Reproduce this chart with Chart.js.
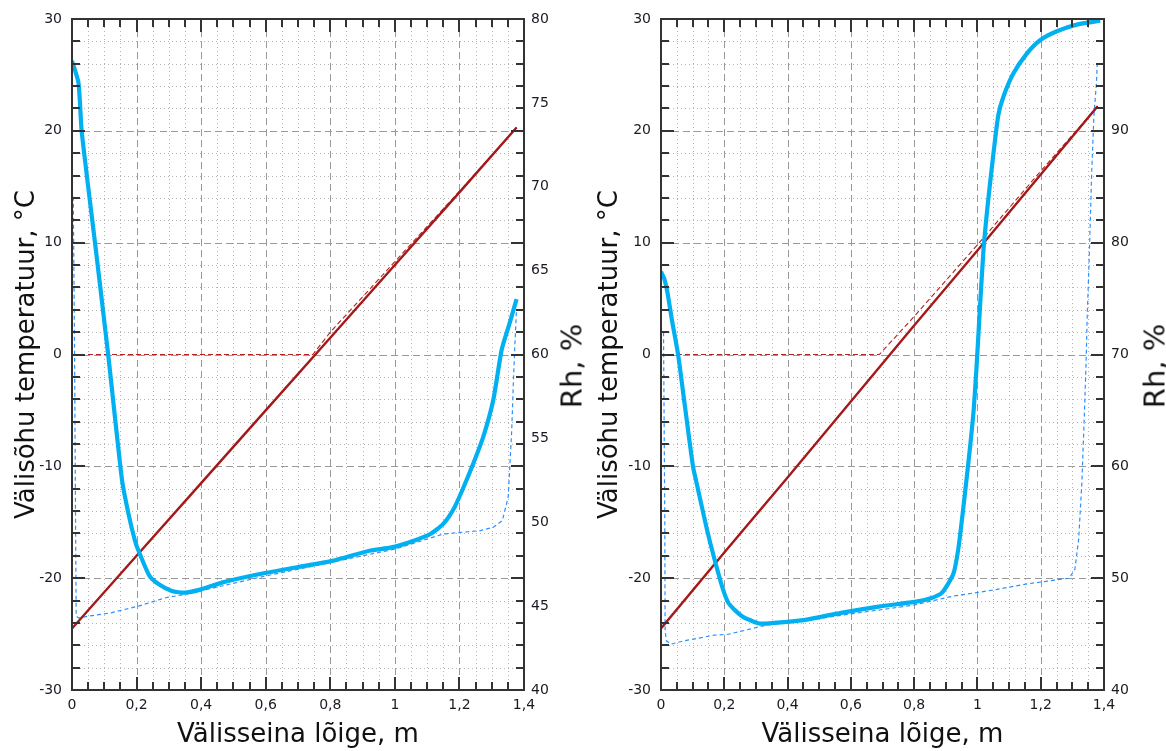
<!DOCTYPE html>
<html>
<head>
<meta charset="utf-8">
<script src="https://cdn.jsdelivr.net/npm/chart.js@4.4.1/dist/chart.umd.min.js"></script>
<style>
  html, body { margin: 0; padding: 0; background: #fff; }
  #wrap { position: relative; width: 1166px; height: 751px; overflow: hidden; background: #fff; }
  .panel { position: absolute; top: 0; width: 583px; height: 751px; }
  .rh-title {
    position: absolute; left: 572px; top: 366px;
    font: 29px "DejaVu Sans", Verdana, sans-serif; color: #111; line-height: 1;
    white-space: nowrap; transform: translate(-50%, -50%) rotate(-90deg);
  }
</style>
</head>
<body>
<div id="wrap">
  <div class="panel" style="left:0">
    <canvas id="chartA" width="583" height="751"></canvas>
    <div class="rh-title">Rh, %</div>
  </div>
  <div class="panel" style="left:583px">
    <canvas id="chartB" width="583" height="751"></canvas>
    <div class="rh-title">Rh, %</div>
  </div>
</div>
<script>
// Tick labels
const xTicks = [0, 0.2, 0.4, 0.6, 0.8, 1.0, 1.2, 1.4];
const tempTicks = [-30, -20, -10, 0, 10, 20, 30];
const rhTicksA = [40, 45, 50, 55, 60, 65, 70, 75, 80];
const rhTicksB = [40, 50, 60, 70, 80, 90];

// Left panel: temperature through the wall (°C)
const aTempX = [0, 0.2, 0.4, 0.6, 0.8, 1.0, 1.2, 1.377];
const aTempY = [-24.5, -18.0, -11.5, -5.0, 1.5, 8.0, 14.5, 20.3];
// Left panel: dashed temperature line (°C)
const aCondX = [0, 0.746, 0.8, 1.0, 1.2, 1.377];
const aCondY = [0, 0, 2.0, 8.3, 14.6, 20.3];
// Left panel: relative humidity (%)
const aRhX = [0, 0.02, 0.03, 0.071, 0.112, 0.155, 0.175, 0.195, 0.206, 0.24, 0.269, 0.309, 0.349, 0.40, 0.464, 0.578, 0.692, 0.807, 0.921, 0.99, 1.059, 1.11, 1.15, 1.185, 1.213, 1.243, 1.274, 1.305, 1.331, 1.356, 1.377];
const aRhY = [77.5, 76.2, 73.3, 66.7, 60.0, 52.5, 50.5, 48.9, 48.3, 46.8, 46.3, 45.9, 45.8, 46.0, 46.4, 46.9, 47.3, 47.7, 48.3, 48.5, 48.9, 49.3, 49.9, 50.9, 52.1, 53.5, 55.1, 57.3, 60.3, 61.9, 63.3];
// Left panel: dashed relative humidity (%)
const aCritX = [0.004, 0.008, 0.011, 0.013, 0.02, 0.05, 0.12, 0.206, 0.29, 0.35, 0.464, 0.6, 0.8, 1.0, 1.15, 1.265, 1.305, 1.333, 1.351, 1.362, 1.367, 1.372, 1.377];
const aCritY = [69.4, 60.0, 50.0, 44.4, 44.3, 44.4, 44.6, 45.0, 45.5, 45.7, 46.2, 46.8, 47.6, 48.4, 49.3, 49.5, 49.7, 50.1, 51.5, 55.5, 58.3, 60.7, 62.7];

// Right panel: temperature through the wall (°C)
const bTempX = [0, 0.2, 0.4, 0.6, 0.8, 1.0, 1.2, 1.38];
const bTempY = [-24.5, -17.7, -11.0, -4.2, 2.6, 9.3, 16.1, 22.2];
// Right panel: dashed temperature line (°C)
const bCondX = [0, 0.69, 0.8, 1.0, 1.2, 1.38];
const bCondY = [0, 0, 3.4, 9.8, 16.4, 22.2];
// Right panel: relative humidity (%)
const bRhX = [0, 0.01, 0.02, 0.035, 0.054, 0.075, 0.101, 0.111, 0.144, 0.168, 0.197, 0.215, 0.256, 0.31, 0.357, 0.451, 0.569, 0.688, 0.806, 0.853, 0.888, 0.924, 0.94, 0.953, 0.965, 0.977, 0.988, 0.997, 1.006, 1.019, 1.034, 1.052, 1.066, 1.082, 1.113, 1.156, 1.198, 1.251, 1.314, 1.388];
const bRhY = [77.4, 76.8, 75.6, 73.0, 70.0, 65.5, 60.0, 58.7, 54.5, 51.8, 48.9, 47.7, 46.6, 45.95, 46.0, 46.25, 46.9, 47.45, 47.9, 48.2, 48.7, 50.4, 52.7, 55.7, 58.7, 61.8, 65.0, 68.8, 73.2, 79.3, 83.8, 88.3, 91.4, 93.05, 95.1, 96.9, 98.1, 98.9, 99.5, 99.85];
// Right panel: dashed relative humidity (%)
const bCritX = [0.008, 0.012, 0.013, 0.017, 0.032, 0.073, 0.168, 0.215, 0.333, 0.45, 0.6, 0.8, 0.924, 1.042, 1.16, 1.29, 1.308, 1.32, 1.33, 1.337, 1.343, 1.347, 1.354, 1.361, 1.368, 1.376, 1.379];
const bCritY = [72.0, 55.0, 45.3, 44.4, 44.1, 44.4, 44.9, 45.0, 45.8, 46.2, 46.8, 47.6, 48.4, 48.9, 49.5, 50.0, 50.8, 53.5, 58.5, 63.9, 68.9, 73.4, 79.3, 86.2, 91.3, 94.25, 96.2];

const FONT = '"DejaVu Sans", Verdana, sans-serif';
const toPts = (xs, ys) => xs.map((x, i) => ({ x, y: ys[i] }));
const fmt = v => String(Math.round(v * 10) / 10).replace('.', ',');

// Dotted minor grid, dashed major grid, frame and inward tick marks
const frameGrid = {
  id: 'frameGrid',
  beforeDatasetsDraw(chart) {
    const { ctx, chartArea: a, scales: { x, y } } = chart;
    ctx.save();
    ctx.lineWidth = 1;
    const vline = px => { ctx.beginPath(); ctx.moveTo(px, a.top); ctx.lineTo(px, a.bottom); ctx.stroke(); };
    const hline = py => { ctx.beginPath(); ctx.moveTo(a.left, py); ctx.lineTo(a.right, py); ctx.stroke(); };
    ctx.strokeStyle = '#b4b4b4';
    ctx.setLineDash([1, 3]);
    for (let k = 1; k < 28; k++) if (k % 4) vline(Math.round(x.getPixelForValue(k * 0.05)) + 0.5);
    for (let t = -28; t < 30; t += 2) if (t % 10) hline(Math.round(y.getPixelForValue(t)) + 0.5);
    ctx.strokeStyle = '#999';
    ctx.setLineDash([7, 4]);
    for (let k = 4; k < 28; k += 4) vline(Math.round(x.getPixelForValue(k * 0.05)) + 0.5);
    for (let t = -20; t < 30; t += 10) hline(Math.round(y.getPixelForValue(t)) + 0.5);
    ctx.restore();
  },
  afterDatasetsDraw(chart) {
    const { ctx, chartArea: a, scales: { x, y } } = chart;
    ctx.save();
    ctx.setLineDash([]);
    ctx.strokeStyle = '#333';
    ctx.lineWidth = 2;
    ctx.beginPath();
    for (let k = 1; k < 28; k++) {
      const px = Math.round(x.getPixelForValue(k * 0.05));
      const len = k % 4 ? 8 : 13;
      ctx.moveTo(px, a.bottom); ctx.lineTo(px, a.bottom - len);
      ctx.moveTo(px, a.top); ctx.lineTo(px, a.top + len);
    }
    for (let t = -28; t < 30; t += 2) {
      const py = Math.round(y.getPixelForValue(t));
      const len = t % 10 ? 8 : 13;
      ctx.moveTo(a.left, py); ctx.lineTo(a.left + len, py);
      ctx.moveTo(a.right, py); ctx.lineTo(a.right - len, py);
    }
    ctx.stroke();
    ctx.strokeRect(Math.round(a.left), Math.round(a.top), Math.round(a.right - a.left), Math.round(a.bottom - a.top));
    ctx.restore();
  }
};

function buildPanel(id, p) {
  const tickFont = { family: FONT, size: 14 };
  const titleFont = { family: FONT, size: 26 };
  return new Chart(document.getElementById(id), {
    type: 'line',
    data: {
      datasets: [
        { label: 'Rh', data: toPts(p.rhX, p.rhY), yAxisID: 'y1', borderColor: '#00B0F0', borderWidth: 4.2, tension: 0.2, order: 0 },
        { label: 'T', data: toPts(p.tX, p.tY), yAxisID: 'y', borderColor: '#A51818', borderWidth: 2.4, order: 1 },
        { label: 'T2', data: toPts(p.cX, p.cY), yAxisID: 'y', borderColor: '#B22222', borderWidth: 1.1, borderDash: [5, 3], order: 2 },
        { label: 'Rh2', data: toPts(p.kX, p.kY), yAxisID: 'y1', borderColor: '#2E90FF', borderWidth: 1.2, borderDash: [4, 3], order: 3 }
      ]
    },
    options: {
      responsive: false,
      animation: false,
      devicePixelRatio: 1,
      layout: { padding: { top: 19, left: 0, right: 0, bottom: 0 } },
      elements: { point: { radius: 0 }, line: { fill: false } },
      plugins: { legend: { display: false }, tooltip: { enabled: false } },
      scales: {
        x: {
          type: 'linear', min: 0, max: 1.4,
          grid: { display: false, drawTicks: false }, border: { display: false },
          afterBuildTicks: s => { s.ticks = xTicks.map(v => ({ value: v })); },
          afterFit: s => { s.height = 61; },
          ticks: { font: tickFont, color: '#1a1a24', padding: 7, maxRotation: 0, autoSkip: false, callback: v => fmt(v) },
          title: { display: true, text: 'Välisseina lõige, m', font: titleFont, color: '#111', padding: { top: 0, bottom: 0 } }
        },
        y: {
          type: 'linear', position: 'left', min: -30, max: 30,
          grid: { display: false, drawTicks: false }, border: { display: false },
          afterBuildTicks: s => { s.ticks = tempTicks.map(v => ({ value: v })); },
          afterFit: s => { s.width = p.leftW; },
          ticks: { font: tickFont, color: '#1a1a24', padding: 10, autoSkip: false },
          title: { display: true, text: 'Välisõhu temperatuur, °C', font: titleFont, color: '#111', padding: { top: 12, bottom: 0 } }
        },
        y1: {
          type: 'linear', position: 'right', min: 40, max: p.rhMax,
          grid: { display: false, drawTicks: false }, border: { display: false },
          afterBuildTicks: s => { s.ticks = p.rhTicks.map(v => ({ value: v })); },
          afterFit: s => { s.width = p.rightW; },
          ticks: { font: tickFont, color: '#1a1a24', padding: 7, autoSkip: false }
        }
      }
    },
    plugins: [frameGrid]
  });
}

buildPanel('chartA', {
  tX: aTempX, tY: aTempY, cX: aCondX, cY: aCondY,
  rhX: aRhX, rhY: aRhY, kX: aCritX, kY: aCritY,
  rhMax: 80, rhTicks: rhTicksA, leftW: 72, rightW: 59
});
buildPanel('chartB', {
  tX: bTempX, tY: bTempY, cX: bCondX, cY: bCondY,
  rhX: bRhX, rhY: bRhY, kX: bCritX, kY: bCritY,
  rhMax: 100, rhTicks: rhTicksB, leftW: 78, rightW: 62
});
</script>
</body>
</html>
